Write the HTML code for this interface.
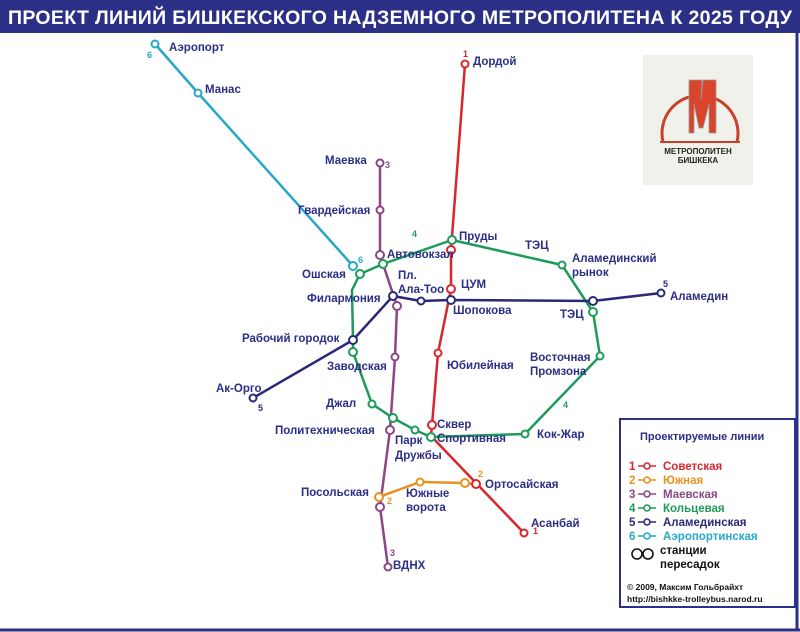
<!DOCTYPE html>
<html><head><meta charset="utf-8"><style>
body{margin:0;background:#fff}
svg{display:block}
text{font-family:"Liberation Sans",sans-serif;font-weight:bold}
</style></head><body>
<svg width="800" height="632" viewBox="0 0 800 632" xmlns="http://www.w3.org/2000/svg">
<rect width="800" height="632" fill="#fff"/>
<rect x="0" y="0" width="800" height="33" fill="#2b2f86"/>
<text x="8" y="24" fill="#fff" font-size="19.5" textLength="784">ПРОЕКТ ЛИНИЙ БИШКЕКСКОГО НАДЗЕМНОГО МЕТРОПОЛИТЕНА К 2025 ГОДУ</text>
<line x1="797" y1="33" x2="797" y2="630" stroke="#2b2f86" stroke-width="3"/>
<line x1="0" y1="630" x2="800" y2="630" stroke="#2b2f86" stroke-width="3"/>
<!-- logo -->
<rect x="643" y="55" width="110" height="130" fill="#f1f1ec"/>
<path d="M663 142 A38 38 0 1 1 737 142" fill="none" stroke="#c8412c" stroke-width="3"/>
<line x1="660" y1="142" x2="740" y2="142" stroke="#c8412c" stroke-width="2"/>
<polygon points="689,80 702,80 701,100 703,80 716,80 716,133 709,133 709,104 703,128 699,128 694,104 694,133 689,133" fill="#d9452c" stroke="#999" stroke-width="0.8"/>
<text x="698" y="154" font-size="8" fill="#222" text-anchor="middle">МЕТРОПОЛИТЕН</text>
<text x="698" y="163" font-size="8" fill="#222" text-anchor="middle">БИШКЕКА</text>
<g fill="none" stroke-width="2.5" stroke-linejoin="round">
<polyline stroke="#27a8c8" points="155,44 198,93 353,266"/>
<polyline stroke="#d8262e" points="465,64 451,250 451,289 438,353 432,425 431,436 477,484 524,533"/>
<polyline stroke="#8e4585" points="380,163 380,210 380,255 397,306 395,357 390,430 380,507 388,567"/>
<polyline stroke="#e8921e" points="379,497 420,482 465,483 473,484"/>
<polyline stroke="#1e9b5a" points="452,240 562,265 593,312 600,356 525,434 431,437 415,430 393,418 372,404 353,352 353,340 352,290 360,274 383,264 452,240"/>
<polyline stroke="#2a2a78" points="253,398 353,340 393,296 421,301 451,300 593,301 661,293"/>
</g>
<g fill="#fff" stroke-width="2">
<g stroke="#27a8c8"><circle cx="155" cy="44" r="3.5"/><circle cx="198" cy="93" r="3.5"/><circle cx="353" cy="266" r="4"/></g>
<g stroke="#d8262e"><circle cx="465" cy="64" r="3.5"/><circle cx="451" cy="250" r="4"/><circle cx="451" cy="289" r="4"/><circle cx="438" cy="353" r="3.5"/><circle cx="432" cy="425" r="4"/><circle cx="476" cy="484" r="4"/><circle cx="524" cy="533" r="3.5"/></g>
<g stroke="#8e4585"><circle cx="380" cy="163" r="3.5"/><circle cx="380" cy="210" r="3.5"/><circle cx="380" cy="255" r="4"/><circle cx="397" cy="306" r="4"/><circle cx="395" cy="357" r="3.5"/><circle cx="390" cy="430" r="4"/><circle cx="380" cy="507" r="4"/><circle cx="388" cy="567" r="3.5"/></g>
<g stroke="#e8921e"><circle cx="379" cy="497" r="4"/><circle cx="420" cy="482" r="3.5"/><circle cx="465" cy="483" r="4"/></g>
<g stroke="#1e9b5a"><circle cx="452" cy="240" r="4"/><circle cx="562" cy="265" r="3.5"/><circle cx="593" cy="312" r="4"/><circle cx="600" cy="356" r="3.5"/><circle cx="525" cy="434" r="3.5"/><circle cx="431" cy="437" r="4"/><circle cx="415" cy="430" r="3.5"/><circle cx="393" cy="418" r="4"/><circle cx="372" cy="404" r="3.5"/><circle cx="353" cy="352" r="4"/><circle cx="360" cy="274" r="4"/><circle cx="383" cy="264" r="4"/></g>
<g stroke="#2a2a78"><circle cx="253" cy="398" r="3.5"/><circle cx="353" cy="340" r="4"/><circle cx="393" cy="296" r="4"/><circle cx="421" cy="301" r="3.5"/><circle cx="451" cy="300" r="4"/><circle cx="593" cy="301" r="4"/><circle cx="661" cy="293" r="3.5"/></g>
</g>
<g font-size="11.5" fill="#2b2f86">
<text x="169" y="51">Аэропорт</text>
<text x="205" y="93">Манас</text>
<text x="325" y="164">Маевка</text>
<text x="298" y="214">Гвардейская</text>
<text x="387" y="258">Автовокзал</text>
<text x="302" y="278">Ошская</text>
<text x="398" y="279">Пл.</text>
<text x="398" y="293">Ала-Тоо</text>
<text x="307" y="302">Филармония</text>
<text x="242" y="342">Рабочий городок</text>
<text x="327" y="370">Заводская</text>
<text x="216" y="392">Ак-Орго</text>
<text x="326" y="407">Джал</text>
<text x="275" y="434">Политехническая</text>
<text x="395" y="444">Парк</text>
<text x="395" y="459">Дружбы</text>
<text x="437" y="428">Сквер</text>
<text x="437" y="442">Спортивная</text>
<text x="537" y="438">Кок-Жар</text>
<text x="530" y="361">Восточная</text>
<text x="530" y="375">Промзона</text>
<text x="447" y="369">Юбилейная</text>
<text x="453" y="314">Шопокова</text>
<text x="461" y="288">ЦУМ</text>
<text x="459" y="240">Пруды</text>
<text x="525" y="249">ТЭЦ</text>
<text x="572" y="262">Аламединский</text>
<text x="572" y="276">рынок</text>
<text x="560" y="318">ТЭЦ</text>
<text x="670" y="300">Аламедин</text>
<text x="473" y="65">Дордой</text>
<text x="485" y="488">Ортосайская</text>
<text x="531" y="527">Асанбай</text>
<text x="301" y="496">Посольская</text>
<text x="406" y="497">Южные</text>
<text x="406" y="511">ворота</text>
<text x="393" y="569">ВДНХ</text>
</g>
<g font-size="9" font-weight="bold">
<text x="147" y="58" fill="#27a8c8">6</text>
<text x="358" y="263" fill="#27a8c8">6</text>
<text x="463" y="57" fill="#d8262e">1</text>
<text x="533" y="534" fill="#d8262e">1</text>
<text x="385" y="168" fill="#8e4585">3</text>
<text x="390" y="556" fill="#8e4585">3</text>
<text x="387" y="504" fill="#e8921e">2</text>
<text x="478" y="477" fill="#e8921e">2</text>
<text x="412" y="237" fill="#1e9b5a">4</text>
<text x="563" y="408" fill="#1e9b5a">4</text>
<text x="258" y="411" fill="#2a2a78">5</text>
<text x="663" y="287" fill="#2a2a78">5</text>
</g>
<!-- legend -->
<rect x="620" y="419" width="175" height="188" fill="#fff" stroke="#2b2f86" stroke-width="2"/>
<text x="640" y="440" font-size="11" fill="#2b2f86">Проектируемые линии</text>
<g font-size="11.5">
<g fill="#d8262e"><text x="629" y="470">1</text><text x="663" y="470">Советская</text></g>
<g fill="#e8921e"><text x="629" y="484">2</text><text x="663" y="484">Южная</text></g>
<g fill="#8e4585"><text x="629" y="498">3</text><text x="663" y="498">Маевская</text></g>
<g fill="#1e9b5a"><text x="629" y="512">4</text><text x="663" y="512">Кольцевая</text></g>
<g fill="#2a2a78"><text x="629" y="526">5</text><text x="663" y="526">Аламединская</text></g>
<g fill="#27a8c8"><text x="629" y="540">6</text><text x="663" y="540">Аэропортинская</text></g>
</g>
<g fill="#fff" stroke-width="1.6">
<g stroke="#d8262e"><line x1="638" y1="466" x2="656" y2="466"/><circle cx="647" cy="466" r="3"/></g>
<g stroke="#e8921e"><line x1="638" y1="480" x2="656" y2="480"/><circle cx="647" cy="480" r="3"/></g>
<g stroke="#8e4585"><line x1="638" y1="494" x2="656" y2="494"/><circle cx="647" cy="494" r="3"/></g>
<g stroke="#1e9b5a"><line x1="638" y1="508" x2="656" y2="508"/><circle cx="647" cy="508" r="3"/></g>
<g stroke="#2a2a78"><line x1="638" y1="522" x2="656" y2="522"/><circle cx="647" cy="522" r="3"/></g>
<g stroke="#27a8c8"><line x1="638" y1="536" x2="656" y2="536"/><circle cx="647" cy="536" r="3"/></g>
<g stroke="#111"><circle cx="637" cy="554" r="5"/><circle cx="648" cy="554" r="5"/></g>
</g>
<text x="660" y="554" font-size="11.5" fill="#111">станции</text>
<text x="660" y="568" font-size="11.5" fill="#111">пересадок</text>
<text x="627" y="590" font-size="8.5" fill="#111">© 2009, Максим Гольбрайхт</text>
<text x="627" y="602" font-size="8.5" fill="#111">http://bishkke-trolleybus.narod.ru</text>
</svg>
</body></html>
